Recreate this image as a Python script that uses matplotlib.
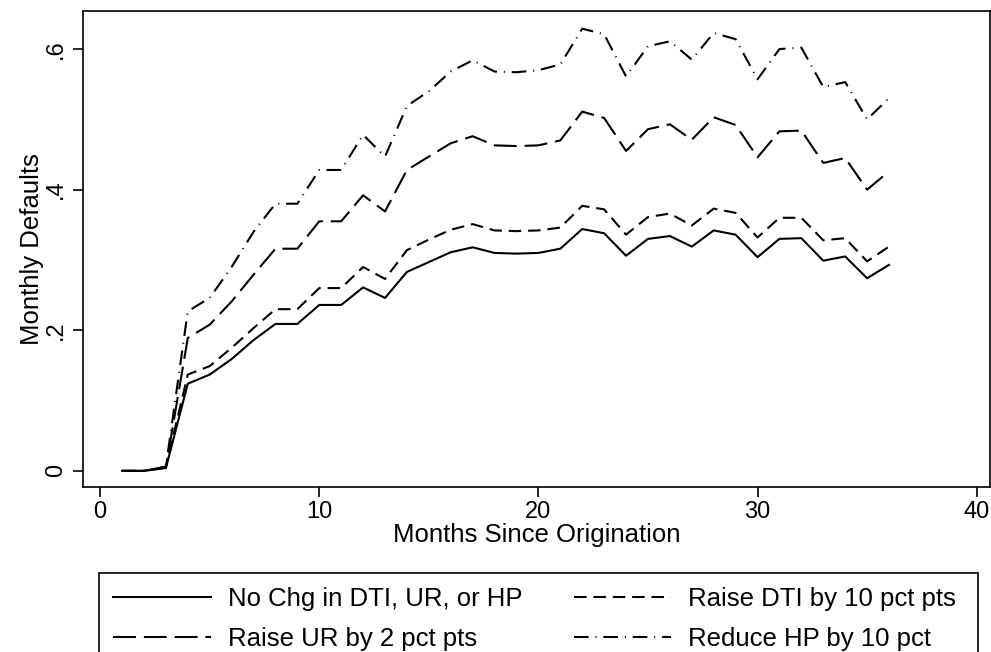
#!/usr/bin/env python3
"""Monthly defaults by months since origination under four scenarios."""
import matplotlib
matplotlib.use("Agg")
import matplotlib.pyplot as plt
from matplotlib.patches import Rectangle
import numpy as np

months = np.arange(1, 37)

no_chg = [0.000, 0.000, 0.004, 0.124, 0.137, 0.159, 0.186, 0.209, 0.209, 0.236,
          0.236, 0.261, 0.246, 0.283, 0.297, 0.311, 0.318, 0.310, 0.309, 0.310,
          0.316, 0.344, 0.338, 0.306, 0.330, 0.334, 0.319, 0.342, 0.336, 0.304,
          0.330, 0.331, 0.299, 0.305, 0.274, 0.293]
raise_dti = [0.000, 0.000, 0.006, 0.137, 0.149, 0.175, 0.203, 0.230, 0.230, 0.260,
             0.260, 0.290, 0.273, 0.314, 0.329, 0.343, 0.351, 0.342, 0.341, 0.342,
             0.346, 0.377, 0.372, 0.336, 0.361, 0.366, 0.349, 0.373, 0.367, 0.332,
             0.360, 0.360, 0.328, 0.331, 0.298, 0.319]
raise_ur = [0.000, 0.000, 0.005, 0.189, 0.208, 0.241, 0.279, 0.316, 0.316, 0.355,
            0.355, 0.392, 0.369, 0.428, 0.447, 0.466, 0.476, 0.463, 0.462, 0.463,
            0.470, 0.511, 0.502, 0.455, 0.486, 0.493, 0.471, 0.503, 0.492, 0.446,
            0.483, 0.484, 0.438, 0.445, 0.400, 0.426]
reduce_hp = [0.000, 0.000, 0.006, 0.227, 0.246, 0.290, 0.340, 0.380, 0.380, 0.428,
             0.428, 0.478, 0.447, 0.519, 0.540, 0.568, 0.584, 0.568, 0.567, 0.570,
             0.578, 0.629, 0.621, 0.561, 0.604, 0.611, 0.585, 0.623, 0.614, 0.557,
             0.600, 0.602, 0.546, 0.553, 0.500, 0.530]

labels = ["No Chg in DTI, UR, or HP", "Raise DTI by 10 pct pts",
          "Raise UR by 2 pct pts", "Reduce HP by 10 pct"]
xticks = [0, 10, 20, 30, 40]
yticks = [0, 0.2, 0.4, 0.6]
yticklabels = ["0", ".2", ".4", ".6"]

plt.rcParams["font.family"] = ["Liberation Sans", "DejaVu Sans"]

fig = plt.figure(figsize=(9.91, 6.52), dpi=100)
ax = fig.add_axes([0.0838, 0.253, 0.915, 0.730])

lw = 1.5
l1, = ax.plot(months, no_chg, color="black", lw=lw, linestyle="-")
l2, = ax.plot(months, raise_dti, color="black", lw=lw, linestyle=(0, (6, 3.3)))
l3, = ax.plot(months, raise_ur, color="black", lw=lw, linestyle=(0, (11, 3.8)))
l4, = ax.plot(months, reduce_hp, color="black", lw=lw,
              linestyle=(0, (7, 3.3, 0.5, 3.3)))

ax.set_xlim(-0.78, 40.6)
ax.set_ylim(-0.023, 0.654)
ax.set_xticks(xticks)
ax.set_yticks(yticks)
ax.set_yticklabels(yticklabels, rotation=90, va="center")
ax.tick_params(direction="out", length=7.2, width=1.2, labelsize=17, colors="black")
ax.tick_params(axis="x", pad=2.5)
ax.tick_params(axis="y", pad=4.3)
ax.set_xlabel("Months Since Origination", fontsize=18.5, labelpad=0)
ax.set_ylabel("Monthly Defaults", fontsize=18.5, labelpad=0.5)
for sp in ax.spines.values():
    sp.set_linewidth(1.2)

# legend box: drawn separately so it runs past the bottom edge like the original
top = 1 - 573 / 652
leg = fig.legend([l1, l3, l2, l4],
                 [labels[0], labels[2], labels[1], labels[3]],
                 ncol=2, loc="upper left", bbox_to_anchor=(99 / 991, top),
                 frameon=False, fontsize=18.5, handlelength=3.8,
                 handletextpad=0.66, borderpad=0.55, borderaxespad=0,
                 labelspacing=0.6, columnspacing=2.0)
fig.patches.append(Rectangle((99 / 991, -0.05), 879 / 991, top + 0.05,
                             transform=fig.transFigure, fill=False,
                             edgecolor="black", lw=1.2))

fig.savefig("out.png", dpi=100)
